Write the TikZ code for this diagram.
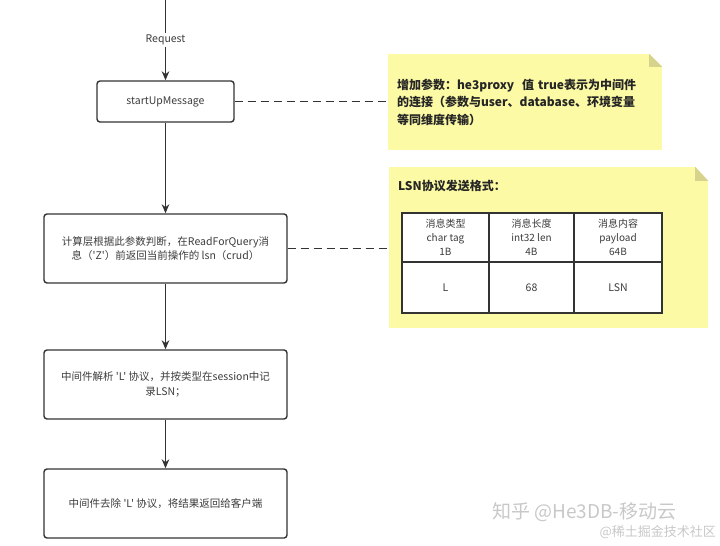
\documentclass[tikz,border=0pt]{standalone}
\usepackage{fontspec}
\setmainfont{Noto Sans CJK SC}[Ligatures=TeXOff]
\usepackage{tikz}
\usetikzlibrary{arrows.meta}
\definecolor{lineGray}{RGB}{51,51,51}
\definecolor{textGray}{RGB}{60,60,60}
\definecolor{noteYellow}{RGB}{252,250,165}
\definecolor{foldYellow}{RGB}{214,212,140}
\definecolor{markGray}{RGB}{200,200,200}

\begin{document}
\begin{tikzpicture}[x=1pt, y=-1pt,
    procbox/.style={draw=lineGray, line width=1.4pt, rounded corners=3pt, fill=white,
        text=textGray, font=\fontsize{10.5}{14.5}\selectfont, align=center},
    notebox/.style={fill=noteYellow, inner sep=0pt},
    cellbox/.style={draw=lineGray, line width=1.2pt, fill=white, text=textGray,
        font=\fontsize{10}{14}\selectfont, align=center, inner sep=0pt},
    flow/.style={draw=lineGray, line width=1.4pt, -{Stealth[length=9pt,width=7.5pt]}},
    dashline/.style={draw=lineGray, line width=1.4pt, dash pattern=on 8pt off 5pt}]
    \useasboundingbox (0,0) rectangle (720,546);

    % --- LEFT: FLOW OF BOXES ---
    \coordinate (client) at (165.5,0);
    \node[procbox, minimum width=137pt, minimum height=41pt] (start) at (165.5,101.5) {startUpMessage};
    \node[procbox, minimum width=243pt, minimum height=69pt] (calc) at (165.5,248.5)
        {计算层根据此参数判断，在ReadForQuery消\\息（'Z'）前返回当前操作的 lsn（crud）};
    \node[procbox, minimum width=243pt, minimum height=69pt] (parse) at (165.5,384.5)
        {中间件解析 'L' 协议，并按类型在session中记\\录LSN；};
    \node[procbox, minimum width=243pt, minimum height=69pt] (strip) at (165.5,503.5)
        {中间件去除 'L' 协议，将结果返回给客户端};

    \draw[flow] (client) -- node[fill=white, text=textGray, inner sep=2pt,
        font=\fontsize{10.5}{12}\selectfont] (req) {Request} (start);
    \draw[flow] (start) -- (calc);
    \draw[flow] (calc) -- (parse);
    \draw[flow] (parse) -- (strip);

    % --- RIGHT: NOTES ---
    \node[notebox, minimum width=274pt, minimum height=96pt, text width=256pt, align=left,
        font=\fontsize{12}{17.5}\selectfont\bfseries, text=black!85] (param) at (525,102)
        {增加参数：he3proxy\ \ 值 true表示为中间件\\的连接（参数与user、database、环境变量\\等同维度传输）};
    \fill[white] (param.north east) -- ++(-13,0) -- ++(13,13) -- cycle;
    \fill[foldYellow] (param.north east) ++(-13,0) -- ++(13,13) -- ++(-13,0) -- cycle;

    \node[notebox, minimum width=319pt, minimum height=161pt] (lsn) at (548.5,247.5) {};
    \fill[white] (lsn.north east) -- ++(-13,0) -- ++(13,14) -- cycle;
    \fill[foldYellow] (lsn.north east) ++(-13,0) -- ++(13,14) -- ++(-13,0) -- cycle;
    \node[anchor=west, inner sep=0pt, font=\fontsize{12}{14}\selectfont\bfseries, text=black!85]
        (lsntitle) at (398,186) {LSN协议发送格式：};

    \node[cellbox, minimum width=87pt, minimum height=49pt] (tagh) at (445.5,237.5) {消息类型\\char tag\\1B};
    \node[cellbox, minimum width=85pt, minimum height=49pt] (lenh) at (531.5,237.5) {消息长度\\int32 len\\4B};
    \node[cellbox, minimum width=88pt, minimum height=49pt] (payh) at (618,237.5) {消息内容\\payload\\64B};
    \node[cellbox, minimum width=87pt, minimum height=51pt, font=\fontsize{10.5}{14}\selectfont] (tagv) at (445.5,287.5) {L};
    \node[cellbox, minimum width=85pt, minimum height=51pt, font=\fontsize{10.5}{14}\selectfont] (lenv) at (531.5,287.5) {68};
    \node[cellbox, minimum width=88pt, minimum height=51pt, font=\fontsize{10.5}{14}\selectfont] (payv) at (618,287.5) {LSN};

    \draw[dashline] (start.east) -- (start.east -| param.west);
    \draw[dashline] (calc.east) -- (calc.east -| lsn.west);

    % --- WATERMARK ---
    \node[anchor=west, inner sep=0pt, text=markGray, font=\fontsize{19}{20}\selectfont] (mark1) at (492,512) {知乎 @He3DB-移动云};
    \node[anchor=east, inner sep=0pt, text=markGray, font=\fontsize{13}{14}\selectfont] (mark2) at (716,532) {@稀土掘金技术社区};
\end{tikzpicture}
\end{document}
